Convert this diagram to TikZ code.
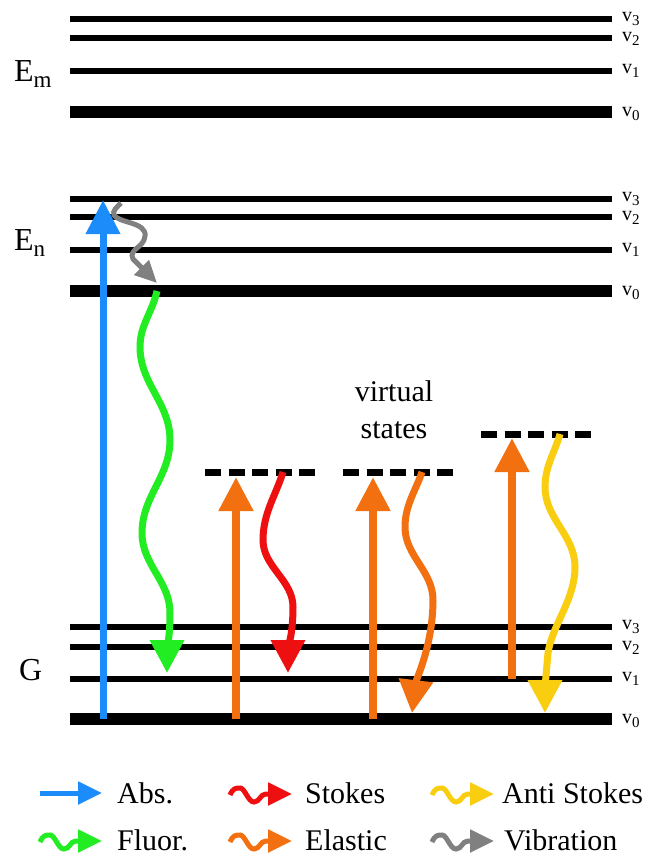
\documentclass[tikz,border=0pt]{standalone}
\usepackage{fontspec}
\setmainfont{Liberation Serif}
\usetikzlibrary{arrows.meta}
\definecolor{cabs}{RGB}{28,140,250}
\definecolor{cflu}{RGB}{34,236,34}
\definecolor{csto}{RGB}{238,16,16}
\definecolor{cela}{RGB}{242,112,16}
\definecolor{cant}{RGB}{250,206,16}
\definecolor{cvib}{RGB}{128,128,128}
\newcommand\vsub[1]{\raisebox{-4.5pt}{\fontsize{15}{15}\selectfont #1}}
\newcommand\esub[1]{\raisebox{-6pt}{\fontsize{23}{23}\selectfont #1}}
\newcommand\legwave[3]{%
  \draw[leg,#3] ({#1},{#2+1}) .. controls +(3,-7) and +(-4,0) .. ++(10,-7)
    .. controls +(5,0) and +(-6,0) .. ++(14,14)
    .. controls +(6,0) and +(-6,0) .. ++(12,-8) -- ++(26,0);}
\tikzset{
  lev/.style={line width=6pt},
  levz/.style={line width=12pt},
  virt/.style={line width=7pt, dash pattern=on 16pt off 7.5pt},
  upar/.style={line width=8pt, -{Triangle[length=34pt,width=33pt]}},
  wav/.style={line width=7pt, -{Triangle[length=33pt,width=33pt]}},
  vibar/.style={line width=5pt, cvib, -{Triangle[length=22pt,width=20pt]}},
  leg/.style={line width=5pt, -{Triangle[length=24pt,width=22pt]}},
  vl/.style={anchor=base west, inner sep=0pt, font=\fontsize{20}{20}\selectfont},
  el/.style={anchor=base west, inner sep=0pt, font=\fontsize{32}{32}\selectfont},
  ltext/.style={anchor=base west, inner sep=0pt, font=\fontsize{30}{30}\selectfont},
}
\begin{document}
\begin{tikzpicture}[x=1pt,y=-1pt]
\useasboundingbox (0,0) rectangle (654,857);
% Em levels
\draw[lev] (70,19) -- (612,19);
\draw[lev] (70,38) -- (612,38);
\draw[lev] (70,71) -- (612,71);
\draw[levz] (70,112) -- (612,112);
% En levels
\draw[lev] (70,199) -- (612,199);
\draw[lev] (70,217) -- (612,217);
\draw[lev] (70,250) -- (612,250);
\draw[levz] (70,291) -- (612,291);
% G levels
\draw[lev] (70,627) -- (612,627);
\draw[lev] (70,647) -- (612,647);
\draw[lev] (70,679) -- (612,679);
\draw[levz] (70,719) -- (612,719);
% v labels
\foreach \yy/\n/\k in {21/3/m3,41/2/m2,73/1/m1,116/0/m0,201/3/n3,220/2/n2,252/1/n1,295/0/n0,629/3/g3,650/2/g2,681/1/g1,723/0/g0}
  \node[vl] (v\k) at (622,\yy) {v\vsub{\n}};
% E labels
\node[el] (Em) at (14,81) {E\esub{m}};
\node[el] (En) at (14,250) {E\esub{n}};
\node[el] (G) at (19,680) {G};
% virtual states
\draw[virt] (205,472) -- (315,472);
\draw[virt] (343,472) -- (453,472);
\draw[virt] (481,434) -- (591,434);
\node[align=center, font=\fontsize{30}{37}\selectfont, inner sep=0pt] (vs) at (394,410) {virtual\\states};
% coordinates
\coordinate (absS) at (103,719); \coordinate (absE) at (103,200);
\coordinate (vibS) at (121,203); \coordinate (vibE) at (157,283);
\coordinate (fluS) at (157,291); \coordinate (fluE) at (167,673);
\coordinate (el1S) at (236,719); \coordinate (el1E) at (236,477);
\coordinate (stoS) at (283,472); \coordinate (stoE) at (288,673);
\coordinate (el2S) at (373,719); \coordinate (el2E) at (373,477);
\coordinate (elwS) at (422,472); \coordinate (elwE) at (412,713);
\coordinate (el3S) at (512,679); \coordinate (el3E) at (512,438);
\coordinate (antS) at (560,434); \coordinate (antE) at (545,713);
% absorption
\draw[upar, cabs, line width=7pt] (absS) -- (absE);
% vibration
\draw[vibar] (vibS) .. controls (117,207) and (112,211) .. (114,215)
  .. controls (118,223) and (147,222) .. (145,236)
  .. controls (144,248) and (128,249) .. (133,259)
  -- (vibE);
% fluorescence
\draw[wav, cflu] (fluS) .. controls (152,313) and (140,325) .. (140,347)
  .. controls (140,384) and (170,403) .. (170,440)
  .. controls (170,477) and (142,496) .. (142,533)
  .. controls (142,565) and (170,581) .. (170,613)
  .. controls (170,637) and (167,650) .. (fluE);
% elastic up arrows
\draw[upar, cela] (el1S) -- (el1E);
\draw[upar, cela] (el2S) -- (el2E);
\draw[upar, cela] (el3S) -- (el3E);
% stokes
\draw[wav, csto] (stoS) .. controls (276,495) and (263,513) .. (263,540)
  .. controls (263,567) and (293,580) .. (293,607)
  .. controls (293,634) and (288,650) .. (stoE);
% elastic wavy
\draw[wav, cela] (elwS) .. controls (416,490) and (405,505) .. (405,527)
  .. controls (405,556) and (433,571) .. (433,600)
  .. controls (433,645) and (416,680) .. (elwE);
% anti stokes
\draw[wav, cant] (antS) .. controls (555,452) and (545,466) .. (545,487)
  .. controls (545,519) and (575,535) .. (575,567)
  .. controls (575,600) and (552,625) .. (548,653)
  .. controls (546,675) and (545,690) .. (antE);
% legend
\coordinate (lgA) at (40,793); \coordinate (lgAe) at (102,793);
\draw[leg, cabs] (lgA) -- (lgAe);
\node[ltext] (tA) at (117,803) {Abs.};
\legwave{230}{794}{csto}
\node[ltext] (tS) at (305,803) {Stokes};
\legwave{432}{794}{cant}
\node[ltext] (tAS) at (502,803) {Anti Stokes};
\legwave{40}{841}{cflu}
\node[ltext] (tF) at (117,850) {Fluor.};
\legwave{230}{841}{cela}
\node[ltext] (tE) at (305,850) {Elastic};
\legwave{432}{841}{cvib}
\node[ltext] (tV) at (504,850) {Vibration};
\end{tikzpicture}
\end{document}
